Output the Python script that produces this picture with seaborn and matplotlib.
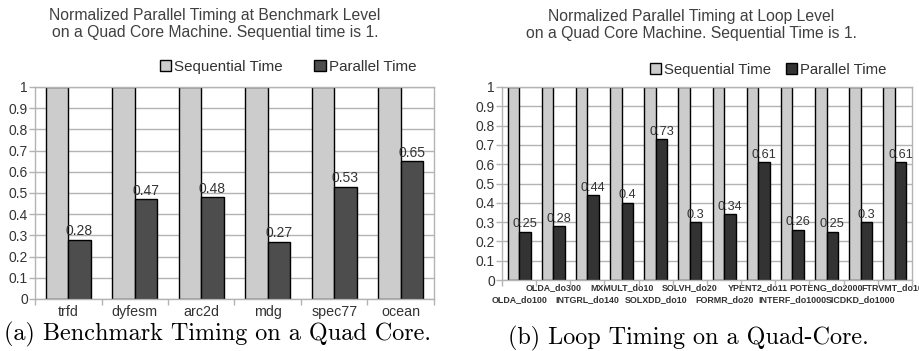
import matplotlib
matplotlib.use("Agg")
import matplotlib.pyplot as plt
import seaborn as sns
import pandas as pd
import numpy as np

# ---- data ----
bench_names = ["trfd", "dyfesm", "arc2d", "mdg", "spec77", "ocean"]
bench_seq = [1, 1, 1, 1, 1, 1]
bench_par = [0.28, 0.47, 0.48, 0.27, 0.53, 0.65]

loop_names = ["OLDA_do100", "OLDA_do300", "INTGRL_do140", "MXMULT_do10",
              "SOLXDD_do10", "SOLVH_do20", "FORMR_do20", "YPENT2_do11",
              "INTERF_do1000", "POTENG_do2000", "SICDKD_do1000", "FTRVMT_do109"]
loop_seq = [1] * 12
loop_par = [0.25, 0.28, 0.44, 0.4, 0.73, 0.3, 0.34, 0.61, 0.26, 0.25, 0.3, 0.61]

series_names = ["Sequential Time", "Parallel Time"]
y_ticks = [0, 0.1, 0.2, 0.3, 0.4, 0.5, 0.6, 0.7, 0.8, 0.9, 1]
y_tick_labels = ["0", "0.1", "0.2", "0.3", "0.4", "0.5", "0.6", "0.7", "0.8", "0.9", "1"]

title_a = "Normalized Parallel Timing at Benchmark Level\non a Quad Core Machine. Sequential time is 1."
title_b = "Normalized Parallel Timing at Loop Level\non a Quad Core Machine. Sequential Time is 1."
caption_a = "(a) Benchmark Timing on a Quad Core."
caption_b = "(b) Loop Timing on a Quad-Core."

sns.set_theme(style="white")
plt.rcParams['font.family'] = ['Liberation Sans', 'DejaVu Sans']

TXT = "#333333"
GRID = "#b3b3b3"

fig = plt.figure(figsize=(9.2, 3.51), dpi=100)


def long_df(names, seq, par):
    return pd.DataFrame({
        "cat": names + names,
        "val": list(seq) + list(par),
        "series": [series_names[0]] * len(names) + [series_names[1]] * len(names),
    })


def style_axes(ax, n, xlim):
    ax.set_ylim(0, 1)
    ax.set_xlim(*xlim)
    ax.set_yticks(y_ticks)
    ax.set_yticklabels(y_tick_labels)
    ax.yaxis.grid(True, color=GRID, lw=1)
    ax.set_axisbelow(True)
    for s in ax.spines.values():
        s.set_color(GRID)
        s.set_linewidth(1)
    ax.set_xlabel("")
    ax.set_ylabel("")
    ax.set_xticks(np.arange(-0.5, n, 1.0), minor=True)
    ax.tick_params(axis="x", which="major", length=0, pad=4)
    ax.tick_params(axis="x", which="minor", length=4, color=GRID, width=1, bottom=True)
    ax.tick_params(axis="y", length=4, color=GRID, width=1, left=True,
                   labelsize=10, labelcolor=TXT, pad=1)


# ---- left chart ----
axa = fig.add_axes([35 / 920, 1 - 299 / 351, 399 / 920, 212 / 351])
dfa = long_df(bench_names, bench_seq, bench_par)
sns.barplot(data=dfa, x="cat", y="val", hue="series", ax=axa, width=0.67,
            palette={series_names[0]: "#cccccc", series_names[1]: "#4d4d4d"},
            edgecolor="black", linewidth=1, saturation=1, legend=True)
style_axes(axa, len(bench_names), (-0.5, 5.5))
axa.tick_params(axis="x", labelsize=10.3, labelcolor=TXT)
axa.bar_label(axa.containers[1], fmt="%g", fontsize=10, color=TXT, padding=1)
h, l = axa.get_legend_handles_labels()
axa.legend(h, l, ncol=2, loc="center", bbox_to_anchor=(288 / 920, 1 - 67 / 351),
           bbox_transform=fig.transFigure, frameon=False, fontsize=10.9,
           handlelength=0.75, handleheight=0.75, handletextpad=0.2,
           columnspacing=2.1, labelcolor=TXT)

# ---- right chart ----
axb = fig.add_axes([502 / 920, 1 - 280 / 351, 410 / 920, 193 / 351])
dfb = long_df(loop_names, loop_seq, loop_par)
sns.barplot(data=dfb, x="cat", y="val", hue="series", ax=axb, width=0.67,
            palette={series_names[0]: "#cccccc", series_names[1]: "#333333"},
            edgecolor="black", linewidth=1, saturation=1, legend=True)
style_axes(axb, len(loop_names), (-0.35, 11.5))
axb.set_xticks(range(len(loop_names)))
axb.set_xticklabels(loop_names, fontsize=6.4, fontweight="bold", color=TXT)
axb.tick_params(axis="x", which="major", length=0, pad=2)
for i, tk in enumerate(axb.xaxis.get_major_ticks()):
    if i % 2 == 0:
        tk.set_pad(10.5)
for t in axb.get_xticklabels():
    t.set_clip_on(False)
axb.bar_label(axb.containers[1], fmt="%g", fontsize=9.2, color=TXT, padding=1)
h, l = axb.get_legend_handles_labels()
axb.legend(h, l, ncol=2, loc="center", bbox_to_anchor=(768 / 920, 1 - 70 / 351),
           bbox_transform=fig.transFigure, frameon=False, fontsize=10.7,
           handlelength=0.75, handleheight=0.75, handletextpad=0.2,
           columnspacing=1.0, labelcolor=TXT)

# ---- titles and captions ----
fig.text(215 / 920, 1 - 24 / 351, title_a, ha="center", va="center",
         fontsize=11.3, color="#404040", linespacing=1.15)
fig.text(691 / 920, 1 - 25 / 351, title_b, ha="center", va="center",
         fontsize=11.3, color="#404040", linespacing=1.15)
fig.text(218 / 920, 1 - 334 / 351, caption_a, ha="center", va="center",
         fontsize=17.4, family="cmr10", color="black")
fig.text(688 / 920, 1 - 338 / 351, caption_b, ha="center", va="center",
         fontsize=17.4, family="cmr10", color="black")

fig.savefig("out.png", dpi=100)
